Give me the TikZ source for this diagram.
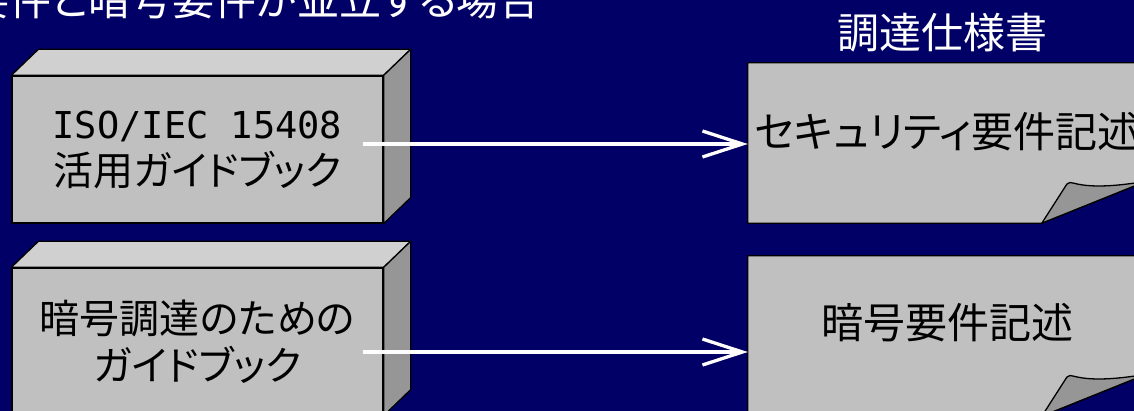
\documentclass[tikz,border=0pt]{standalone}
\usepackage{fontspec}
\newfontfamily\jp{Noto Sans CJK JP}[RawFeature=+palt]
\newfontfamily\lat{DejaVu Sans Mono}
\usetikzlibrary{arrows.meta,calc}
\definecolor{navy}{RGB}{0,0,102}
\definecolor{facefront}{RGB}{192,192,192}
\definecolor{facetop}{RGB}{208,208,208}
\definecolor{faceside}{RGB}{150,150,150}
\begin{document}
\begin{tikzpicture}[x=1pt,y=-1pt,
  front/.style={draw=black, line width=1.3pt, fill=facefront, minimum width=371pt, minimum height=147pt, inner sep=0pt, font=\jp\fontsize{40}{47}\selectfont, align=center, text=black},
  topface/.style={draw=black, line width=1.3pt, fill=facetop, line join=round},
  sideface/.style={draw=black, line width=1.3pt, fill=faceside, line join=round},
  doc/.style={draw=none, minimum width=398pt, minimum height=160pt, inner sep=0pt},
  docshape/.style={draw=black, line width=1.3pt, fill=facefront, line join=round},
  flap/.style={draw=black, line width=1.3pt, fill=faceside, line join=round},
  doctext/.style={font=\jp\fontsize{42}{50}\selectfont, text=black, inner sep=0pt},
  headtext/.style={font=\jp\fontsize{42}{50}\selectfont, text=white, inner sep=0pt},
  flow/.style={draw=white, line width=3.3pt, -{Straight Barb[length=40pt,width=26pt]}},
]
\path[use as bounding box] (0,0) rectangle (1134,411);
\clip (0,0) rectangle (1134,411);
\fill[navy] (0,0) rectangle (1134,411);

% headings
\node[headtext, anchor=base east] (title) at (541,16) {要件と暗号要件が並立する場合};
\node[headtext, anchor=base] (spec) at (942,48.5) {調達仕様書};

% 3D boxes
\node[front] (b1) at (197.5,149.5) {{\lat\fontsize{37}{47}\selectfont ISO/IEC 15408}\\活用ガイドブック};
\draw[topface] (b1.north west) -- ++(27,-26) -- ($(b1.north east)+(27,-26)$) -- (b1.north east) -- cycle;
\draw[sideface] (b1.north east) -- ++(27,-26) -- ($(b1.south east)+(27,-26)$) -- (b1.south east) -- cycle;

\node[front] (b2) at (197.5,341.5) {暗号調達のための\\ガイドブック};
\draw[topface] (b2.north west) -- ++(27,-26) -- ($(b2.north east)+(27,-26)$) -- (b2.north east) -- cycle;
\draw[sideface] (b2.north east) -- ++(27,-26) -- ($(b2.south east)+(27,-26)$) -- (b2.south east) -- cycle;

% documents
\node[doc] (d1) at (947,143) {};
\draw[docshape] (d1.north west) -- (d1.north east) -- ($(d1.south east)+(0,-42)$) -- ($(d1.south west)+(294,0)$) -- (d1.south west) -- cycle;
\draw[flap] ($(d1.south west)+(294,0)$) -- ($(d1.south west)+(319,-39)$) .. controls +(3,-2) and +(-3,-1) .. ($(d1.south west)+(326,-40)$) .. controls +(15,4) and +(-35,6) .. ($(d1.south east)+(0,-42)$) -- cycle;
\node[doctext] (t1) at ($(d1.center)+(0,-11)$) {セキュリティ要件記述};

\node[doc] (d2) at (947,336) {};
\draw[docshape] (d2.north west) -- (d2.north east) -- ($(d2.south east)+(0,-42)$) -- ($(d2.south west)+(294,0)$) -- (d2.south west) -- cycle;
\draw[flap] ($(d2.south west)+(294,0)$) -- ($(d2.south west)+(319,-39)$) .. controls +(3,-2) and +(-3,-1) .. ($(d2.south west)+(326,-40)$) .. controls +(15,4) and +(-35,6) .. ($(d2.south east)+(0,-42)$) -- cycle;
\node[doctext] (t2) at ($(d2.center)+(0,-13)$) {暗号要件記述};

% arrows
\coordinate (s1) at (363,144);
\coordinate (s2) at (363,352);
\draw[flow] (s1) -- (s1 -| d1.west);
\draw[flow] (s2) -- (s2 -| d2.west);
\end{tikzpicture}
\end{document}
